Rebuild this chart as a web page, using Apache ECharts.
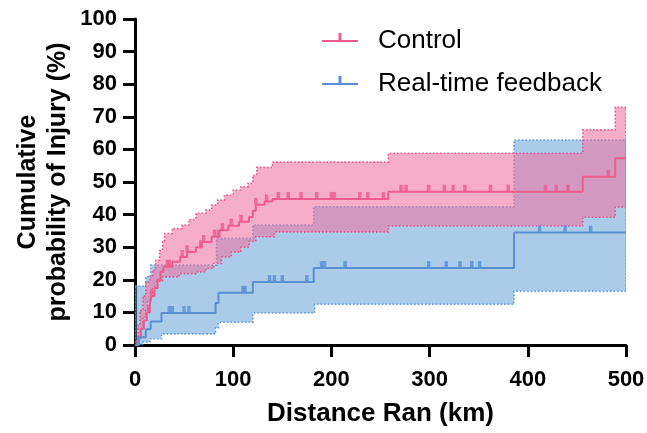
<!DOCTYPE html>
<html>
<head>
<meta charset="utf-8">
<script src="https://cdn.jsdelivr.net/npm/echarts@6/dist/echarts.min.js"></script>
<style>html,body{margin:0;padding:0;background:#fff}#c{width:647px;height:433px}</style>
</head>
<body>
<div id="c"></div>
<script>
// ---- data (km, cumulative %) ----
const xTicks = [0, 100, 200, 300, 400, 500];
const yTicks = [0, 10, 20, 30, 40, 50, 60, 70, 80, 90, 100];

const controlSteps = [[0,0],[3,2.5],[6,5],[9,7.5],[12,10],[15,12.5],[17,15],[20,17.5],[23,20],[26,22.5],[29,24],[38,25.5],[46,27],[53,28.5],[62,30],[68,31.6],[78,33.2],[86,35.2],[95,36.6],[106,37.8],[116,39.3],[120,41.2],[123,43],[132,44],[140,44.8],[258,47],[456,51.6],[489,57.3],[500,57.3]];
const controlUpper = [[0,0],[1,1.5],[3,6],[5,10.6],[8,15],[11,19.3],[15,21],[18,23],[21,26],[25,29],[28,32],[30,34.2],[38,35.7],[48,36.8],[55,38.5],[62,40.4],[72,41.4],[78,42.9],[84,44.5],[91,46],[100,47.5],[108,48.5],[115,49.6],[120,52],[124,54.5],[140,56.1],[258,58.8],[456,66],[489,72.9],[500,72.9]];
const controlLower = [[0,0],[3,2],[6,5],[8,8.6],[11,11],[13,13.7],[16,16],[18,17.8],[22,19.5],[28,20.9],[45,21.9],[62,22.4],[72,23.5],[80,25],[88,27],[98,28.5],[108,30],[116,31.8],[123,33.2],[142,34.7],[258,36.5],[456,39.2],[489,42.3],[500,42.3]];
const controlCensorKm = [14,17,33,35,48,53,67,70,81,85,89,98,108,123,134,146,156,169,185,200,203,229,237,253,271,276,299,315,324,336,362,380,418,429,441,482];

const feedbackSteps = [[0,0],[4,2.4],[11,4.8],[16,7.2],[27,9.8],[82,12.9],[85,16],[120,19.3],[182,23.6],[386,34.5],[500,34.5]];
const feedbackUpper = [[0,18.1],[11,21],[16,24.5],[83,32.7],[120,36.8],[182,42.4],[386,62.9],[500,62.9]];
const feedbackLower = [[0,0],[8,0.9],[15,1.9],[27,3.4],[82,5.2],[85,7],[120,9.8],[183,12.5],[386,16.5],[500,16.5]];
const feedbackCensorKm = [35,38,50,55,110,112,137,142,150,175,190,193,214,299,317,331,343,351,412,438,464];

// ---- helpers ----
function stepAt(steps, x) {
  let v = steps[0][1];
  for (const [sx, sy] of steps) { if (sx <= x) v = sy; else break; }
  return v;
}
function bandSeries(upper, lower, fill, stroke) {
  return {
    type: 'custom', silent: true, z: 1, clip: true,
    data: [[0, 0]],
    renderItem: function (params, api) {
      const pts = [];
      for (let i = 0; i < upper.length; i++) {
        if (i > 0) pts.push(api.coord([upper[i][0], upper[i - 1][1]]));
        pts.push(api.coord(upper[i]));
      }
      for (let i = lower.length - 1; i >= 0; i--) {
        pts.push(api.coord(lower[i]));
        if (i > 0) pts.push(api.coord([lower[i][0], lower[i - 1][1]]));
      }
      return { type: 'polygon', shape: { points: pts },
        style: { fill: fill, stroke: stroke, lineWidth: 1.6, lineDash: [1.6, 2] } };
    }
  };
}
function censorSeries(steps, kms, color) {
  return {
    type: 'scatter', silent: true, z: 4,
    symbol: 'rect', symbolSize: [3.5, 7], symbolOffset: [0, -3.5],
    itemStyle: { color: color },
    data: kms.map(k => [k, stepAt(steps, k)])
  };
}

const PINK = '#ee5b8e', BLUE = '#5b8fd2';
const FONT = '"Liberation Sans", Arial, sans-serif';
const legendIcon = 'path://M0,7 L16.5,7 L16.5,0 L19.5,0 L19.5,7 L36,7 L36,9 L0,9 Z M0,16 L0.01,16 L0,16.01 Z';

const chart = echarts.init(document.getElementById('c'), null, { renderer: 'canvas' });
chart.setOption({
  animation: false,
  backgroundColor: '#fff',
  grid: { left: 135, right: 21, top: 19, bottom: 88, containLabel: false, outerBoundsMode: 'none' },
  legend: {
    orient: 'vertical', left: 317, top: 21, itemWidth: 36, itemHeight: 16, itemGap: 13,
    data: [{ name: 'Control', icon: legendIcon }, { name: 'Real-time feedback', icon: legendIcon }],
    textStyle: { fontFamily: FONT, fontSize: 26, color: '#000', lineHeight: 30, padding: [0, 0, 0, 15] }
  },
  xAxis: {
    type: 'value', min: xTicks[0], max: xTicks[xTicks.length - 1], interval: 100,
    name: 'Distance Ran (km)', nameLocation: 'middle', nameGap: 56, nameMoveOverlap: false,
    nameTextStyle: { fontFamily: FONT, fontWeight: 'bold', fontSize: 26, color: '#000' },
    axisLine: { lineStyle: { color: '#000', width: 3 } },
    axisTick: { length: 12, lineStyle: { color: '#000', width: 3 } },
    axisLabel: { fontFamily: FONT, fontWeight: 'bold', fontSize: 22, color: '#000', margin: 24 },
    splitLine: { show: false }
  },
  yAxis: {
    type: 'value', min: yTicks[0], max: yTicks[yTicks.length - 1], interval: 10,
    name: 'Cumulative\nprobability of Injury (%)', nameLocation: 'middle', nameGap: 62, nameMoveOverlap: false,
    nameTextStyle: { fontFamily: FONT, fontWeight: 'bold', fontSize: 25, color: '#000', lineHeight: 30 },
    axisLine: { lineStyle: { color: '#000', width: 3 } },
    axisTick: { length: 12, lineStyle: { color: '#000', width: 3 } },
    axisLabel: { fontFamily: FONT, fontWeight: 'bold', fontSize: 22, color: '#000', margin: 18 },
    splitLine: { show: false }
  },
  series: [
    bandSeries(feedbackUpper, feedbackLower, 'rgba(87,153,211,0.5)', 'rgba(90,150,220,0.95)'),
    bandSeries(controlUpper, controlLower, 'rgba(238,114,160,0.58)', 'rgba(232,80,140,0.95)'),
    { name: 'Control', type: 'line', step: 'end', z: 3, symbol: 'none', color: PINK,
      lineStyle: { color: PINK, width: 2 }, data: controlSteps },
    { name: 'Real-time feedback', type: 'line', step: 'end', z: 3, symbol: 'none', color: BLUE,
      lineStyle: { color: BLUE, width: 2 }, data: feedbackSteps },
    censorSeries(controlSteps, controlCensorKm, PINK),
    censorSeries(feedbackSteps, feedbackCensorKm, BLUE)
  ]
});
</script>
</body>
</html>
